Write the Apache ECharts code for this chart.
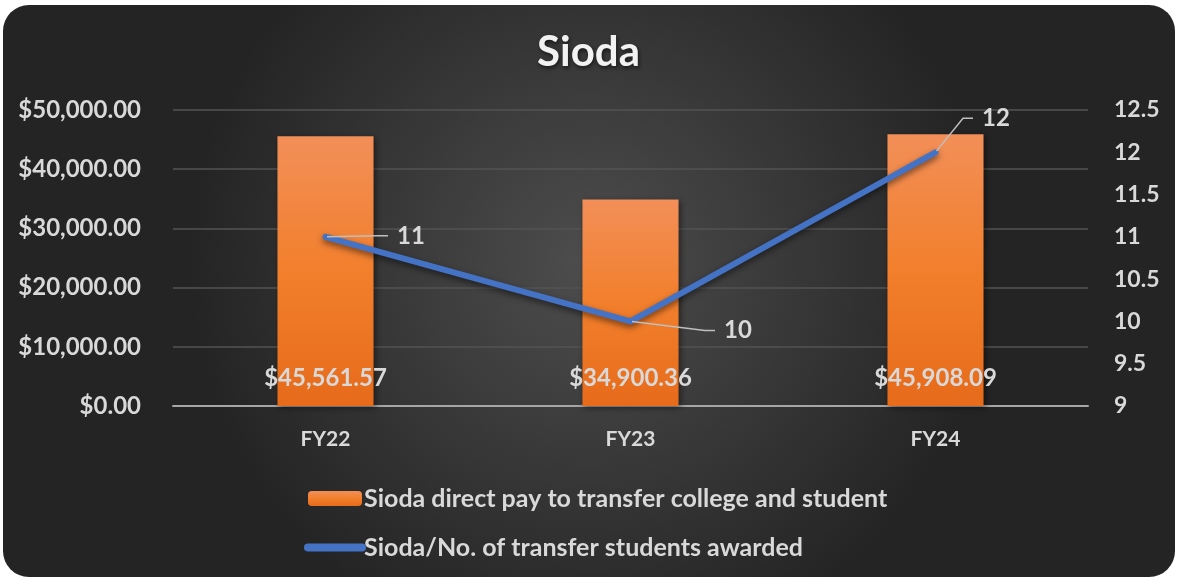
<!DOCTYPE html>
<html>
<head>
<meta charset="utf-8">
<script src="https://cdn.jsdelivr.net/npm/echarts@6/dist/echarts.min.js"></script>
<style>
html,body{margin:0;padding:0;background:#fff;}
#chart{width:1177px;height:580px;}
</style>
</head>
<body>
<div id="chart"></div>
<script>
var categories = ['FY22', 'FY23', 'FY24'];
var payValues = [45561.57, 34900.36, 45908.09];
var studentValues = [11, 10, 12];
var payName = 'Sioda direct pay to transfer college and student';
var studentName = 'Sioda/No. of transfer students awarded';

// label offsets for the line labels (dx, dy from default right position)
var lineLabelShift = [[56, -1], [78, 9], [31, -34]];

var chart = echarts.init(document.getElementById('chart'));
var txt = '#d9d9d9';
var font = 'Lato, "Open Sans", sans-serif';

function money(v) {
    return '$' + v.toLocaleString('en-US', { minimumFractionDigits: 2, maximumFractionDigits: 2 });
}

var option = {
    backgroundColor: '#fff',
    textStyle: { fontFamily: font },
    graphic: [{
        type: 'rect',
        z: -10,
        silent: true,
        shape: { x: 3, y: 5, width: 1172, height: 572, r: 26 },
        style: {
            fill: new echarts.graphic.RadialGradient(0.5, 0.45, 0.7, [
                { offset: 0, color: '#4d4d4d' },
                { offset: 1, color: '#242424' }
            ])
        }
    }],
    title: {
        text: 'Sioda',
        left: 'center',
        top: 26,
        textStyle: {
            color: '#f2f2f2', fontSize: 42, fontWeight: 'bold', fontFamily: font,
            textShadowColor: 'rgba(0,0,0,0.6)', textShadowBlur: 4, textShadowOffsetX: 1, textShadowOffsetY: 2
        }
    },
    legend: {
        orient: 'vertical',
        left: 299,
        top: 481,
        itemWidth: 54,
        itemHeight: 15,
        itemGap: 24,
        textStyle: { color: txt, fontSize: 25, fontWeight: 'bold', padding: [0, 0, 0, -3] },
        data: [
            { name: payName },
            { name: studentName, itemStyle: { opacity: 0 }, lineStyle: { width: 8, cap: 'round' } }
        ]
    },
    grid: { left: 173, right: 89, top: 110, bottom: 174 },
    xAxis: {
        type: 'category',
        data: categories,
        axisTick: { show: false },
        axisLine: { lineStyle: { color: '#a6a6a6', width: 2 } },
        axisLabel: { color: txt, fontSize: 21, fontWeight: 'bold', margin: 23 }
    },
    yAxis: [{
        type: 'value',
        min: 0,
        max: 50000,
        interval: 10000,
        axisLine: { show: false },
        axisTick: { show: false },
        splitLine: { lineStyle: { color: '#535353', width: 1.5 } },
        axisLabel: { color: txt, fontSize: 24, fontWeight: 'bold', margin: 32, formatter: money }
    }, {
        type: 'value',
        min: 9,
        max: 12.5,
        interval: 0.5,
        axisLine: { show: false },
        axisTick: { show: false },
        splitLine: { show: false },
        axisLabel: { color: txt, fontSize: 23, fontWeight: 'bold', margin: 26 }
    }],
    series: [{
        name: payName,
        type: 'bar',
        data: payValues,
        barWidth: '31.5%',
        itemStyle: {
            color: new echarts.graphic.LinearGradient(0, 0, 0, 1, [
                { offset: 0, color: '#f28f58' },
                { offset: 0.5, color: '#f27f2c' },
                { offset: 1, color: '#e66b1a' }
            ]),
            shadowColor: 'rgba(0,0,0,0.45)',
            shadowBlur: 6,
            shadowOffsetX: 2,
            shadowOffsetY: 2
        },
        label: {
            show: true,
            position: 'insideBottom',
            distance: 16,
            color: txt,
            fontSize: 24,
            fontWeight: 'bold',
            formatter: function (p) { return money(p.value); }
        }
    }, {
        name: studentName,
        type: 'line',
        yAxisIndex: 1,
        data: studentValues,
        symbol: 'circle',
        symbolSize: 3,
        showSymbol: true,
        lineStyle: {
            color: '#4472c4',
            width: 6,
            cap: 'round',
            join: 'round',
            shadowColor: 'rgba(0,0,0,0.55)',
            shadowBlur: 6,
            shadowOffsetY: 3
        },
        itemStyle: { color: '#4472c4' },
        label: {
            show: true,
            position: 'right',
            distance: 5,
            padding: [0, 0, 0, 9],
            backgroundColor: 'rgba(0,0,0,0)',
            color: txt,
            fontSize: 24,
            fontWeight: 'bold'
        },
        labelLine: {
            show: true,
            smooth: false,
            length2: 10,
            lineStyle: { color: '#bfbfbf', width: 1.5 }
        },
        labelLayout: function (p) {
            var s = lineLabelShift[p.dataIndex];
            return { dx: s[0], dy: s[1] };
        }
    }]
};

chart.setOption(option);
</script>
</body>
</html>
